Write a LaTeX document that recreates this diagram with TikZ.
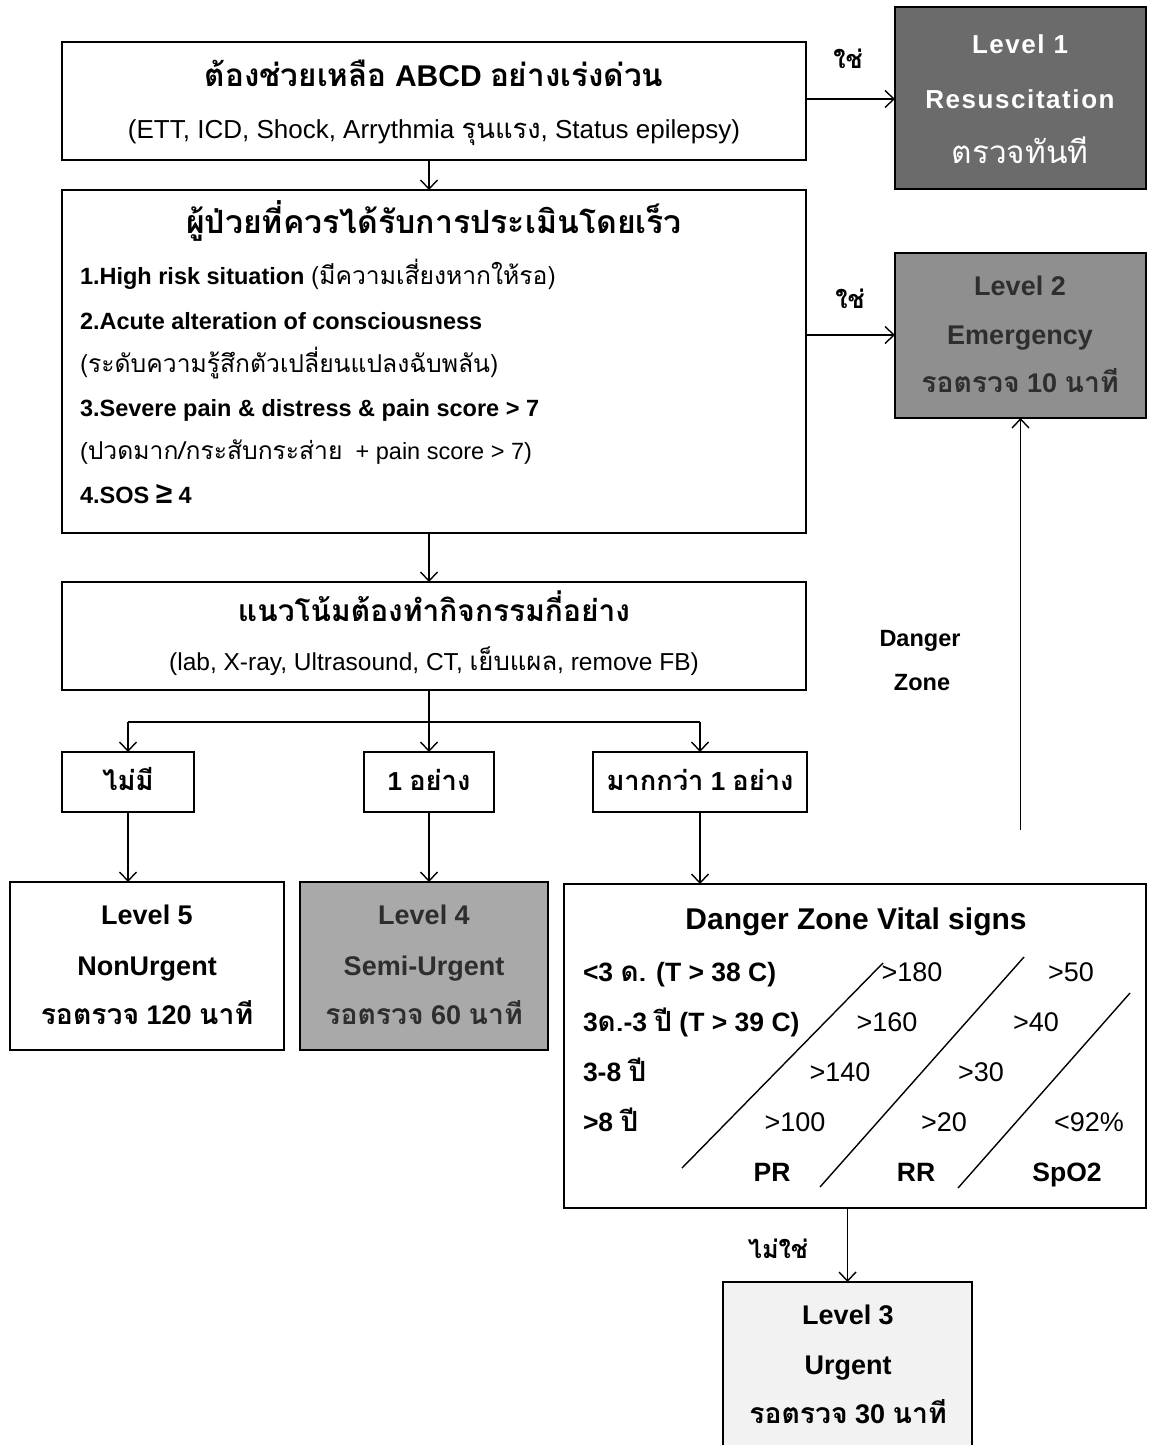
\documentclass[tikz,border=0pt]{standalone}
\usepackage{fontspec}
\setmainfont{Liberation Sans}
\newfontfamily\thfont[Script=Thai,Scale=1.05]{Loma}
\usetikzlibrary{arrows.meta}
\newcommand{\fsz}[1]{\fontsize{#1}{#1}\selectfont}
\newcommand{\tht}[1]{{\thfont #1}}
\definecolor{lone}{HTML}{6B6B6B}
\definecolor{ltwo}{HTML}{8F8F8F}
\definecolor{lfour}{HTML}{A9A9A9}
\definecolor{lthree}{HTML}{F2F2F2}
\definecolor{darktxt}{HTML}{2E2E2E}
\begin{document}
\begin{tikzpicture}[x=1pt,y=-1pt,
  every node/.style={inner sep=0pt,outer sep=0pt},
  box/.style={draw=black,line width=1.8pt},
  arr/.style={line width=1.4pt,-{Straight Barb[length=9pt,width=17pt,line width=1.4pt]}},
  ln/.style={line width=1.4pt},
  tx/.style={anchor=mid,yshift=-6pt},
  txl/.style={anchor=mid west,yshift=-6pt}]
\fill[white] (0,0) rectangle (1148,1445);
\useasboundingbox (0,0) rectangle (1148,1445);

% boxes
\node[box, minimum width=744pt, minimum height=118pt] (A) at (434,101) {};
\node[box, fill=lone, minimum width=251pt, minimum height=182pt] (L1) at (1020.5,98) {};
\node[box, minimum width=744pt, minimum height=343pt] (B) at (434,361.5) {};
\node[box, fill=ltwo, minimum width=251pt, minimum height=165pt] (L2) at (1020.5,335.5) {};
\node[box, minimum width=744pt, minimum height=108pt] (C) at (434,636) {};
\node[box, minimum width=132pt, minimum height=60pt] (n0) at (128,782) {};
\node[box, minimum width=130pt, minimum height=60pt] (n1) at (429,782) {};
\node[box, minimum width=214pt, minimum height=60pt] (n2) at (700,782) {};
\node[box, minimum width=274pt, minimum height=168pt] (L5) at (147,966) {};
\node[box, fill=lfour, minimum width=248pt, minimum height=168pt] (L4) at (424,966) {};
\node[box, minimum width=582pt, minimum height=324pt] (DZ) at (855,1046) {};
\node[box, fill=lthree, minimum width=249pt, minimum height=190pt] (L3) at (847.5,1377) {};

% texts A
\node[tx, font=\fsz{30}\bfseries] (a1) at (434,78) {\tht{ต้องช่วยเหลือ} ABCD \tht{อย่างเร่งด่วน}};
\node[tx, font=\fsz{26}] (a2) at (434,130) {(ETT, ICD, Shock, Arrythmia \tht{รุนแรง}, Status epilepsy)};
% Level 1
\node[tx, font=\fsz{26}\bfseries\addfontfeature{LetterSpace=6}, text=white] (l1a) at (1020,45) {Level 1};
\node[tx, font=\fsz{26}\bfseries\addfontfeature{LetterSpace=6}, text=white] (l1b) at (1020,100) {Resuscitation};
\node[tx, font=\fsz{30}, text=white] (l1c) at (1020,155) {\tht{ตรวจทันที}};
\node[tx, font=\fsz{24}\bfseries] (yes1) at (848,60) {\tht{ใช่}};
% texts B
\node[tx, font=\fsz{30.5}\bfseries] (b0) at (434,225) {\tht{ผู้ป่วยที่ควรได้รับการประเมินโดยเร็ว}};
\node[txl, font=\fsz{23.5}] (b1) at (80,276) {\textbf{1.High risk situation} \tht{(มีความเสี่ยงหากให้รอ)}};
\node[txl, font=\fsz{23.5}\bfseries] (b2) at (80,321) {2.Acute alteration of consciousness};
\node[txl, font=\fsz{23.5}] (b3) at (80,364) {\tht{(ระดับความรู้สึกตัวเปลี่ยนแปลงฉับพลัน)}};
\node[txl, font=\fsz{23.5}\bfseries] (b4) at (80,408) {3.Severe pain \& distress \& pain score > 7};
\node[txl, font=\fsz{23.5}] (b5) at (80,451) {(\tht{ปวดมาก/กระสับกระส่าย}\ \ + pain score > 7)};
\node[txl, font=\fsz{23.5}\bfseries] (b6) at (80,495) {4.SOS {\fsz{30}≥} 4};
% Level 2
\node[tx, font=\fsz{27}\bfseries, text=darktxt] (l2a) at (1020,287) {Level 2};
\node[tx, font=\fsz{27}\bfseries, text=darktxt] (l2b) at (1020,336) {Emergency};
\node[tx, font=\fsz{27}\bfseries, text=darktxt] (l2c) at (1020,384) {\tht{รอตรวจ} 10 \tht{นาที}};
\node[tx, font=\fsz{24}\bfseries] (yes2) at (850,300) {\tht{ใช่}};
% texts C
\node[tx, font=\fsz{28.5}\bfseries] (c1) at (434,613) {\tht{แนวโน้มต้องทำกิจกรรมกี่อย่าง}};
\node[tx, font=\fsz{24.5}] (c2) at (434,662) {(lab, X-ray, Ultrasound, CT, \tht{เย็บแผล}, remove FB)};
% small boxes
\node[tx, font=\fsz{26}\bfseries] at (n0) {\tht{ไม่มี}};
\node[tx, font=\fsz{26}\bfseries] at (n1) {1 \tht{อย่าง}};
\node[tx, font=\fsz{26}\bfseries] at (n2) {\tht{มากกว่า} 1 \tht{อย่าง}};
% Level 5
\node[tx, font=\fsz{27}\bfseries] (l5a) at (147,916) {Level 5};
\node[tx, font=\fsz{27}\bfseries] (l5b) at (147,967) {NonUrgent};
\node[tx, font=\fsz{27}\bfseries] (l5c) at (147,1016) {\tht{รอตรวจ} 120 \tht{นาที}};
% Level 4
\node[tx, font=\fsz{27}\bfseries, text=darktxt] (l4a) at (424,916) {Level 4};
\node[tx, font=\fsz{27}\bfseries, text=darktxt] (l4b) at (424,967) {Semi-Urgent};
\node[tx, font=\fsz{27}\bfseries, text=darktxt] (l4c) at (424,1016) {\tht{รอตรวจ} 60 \tht{นาที}};
% Danger zone
\node[tx, font=\fsz{30}\bfseries] (dzt) at (856,921) {Danger Zone Vital signs};
\node[txl, font=\fsz{26.5}\bfseries] (r1) at (583,973) {<3 \tht{ด.} (T > 38 C)};
\node[txl, font=\fsz{26.5}\bfseries] (r2) at (583,1023) {3\tht{ด.}-3 \tht{ปี} (T > 39 C)};
\node[txl, font=\fsz{26.5}\bfseries] (r3) at (583,1073) {3-8 \tht{ปี}};
\node[txl, font=\fsz{26.5}\bfseries] (r4) at (583,1123) {>8 \tht{ปี}};
\begin{scope}[every node/.style={anchor=mid, yshift=-6pt, inner sep=0pt, font=\fsz{27}}]
\node (p1) at (912,973) {>180};
\node (p2) at (887,1023) {>160};
\node (p3) at (840,1073) {>140};
\node (p4) at (795,1123) {>100};
\node (q1) at (1071,973) {>50};
\node (q2) at (1036,1023) {>40};
\node (q3) at (981,1073) {>30};
\node (q4) at (944,1123) {>20};
\node (s4) at (1089,1123) {<92\%};
\end{scope}
\node[tx, font=\fsz{26.5}\bfseries] (pr) at (772,1173) {PR};
\node[tx, font=\fsz{26.5}\bfseries] (rr) at (916,1173) {RR};
\node[tx, font=\fsz{26.5}\bfseries] (sp) at (1067,1173) {SpO2};
\coordinate (d1a) at (682,1168); \coordinate (d1b) at (883,963);
\coordinate (d2a) at (820,1187); \coordinate (d2b) at (1024,957);
\coordinate (d3a) at (958,1188); \coordinate (d3b) at (1130,993);
\draw[ln] (d1a) -- (d1b);
\draw[ln] (d2a) -- (d2b);
\draw[ln] (d3a) -- (d3b);
% Level 3
\node[tx, font=\fsz{27}\bfseries] (l3a) at (848,1316) {Level 3};
\node[tx, font=\fsz{27}\bfseries] (l3b) at (848,1366) {Urgent};
\node[tx, font=\fsz{27}\bfseries] (l3c) at (848,1415) {\tht{รอตรวจ} 30 \tht{นาที}};
\node[tx, font=\fsz{24}\bfseries] (no) at (778,1250) {\tht{ไม่ใช่}};
% danger zone label
\node[tx, font=\fsz{23.5}\bfseries] (dzl1) at (920,638) {Danger};
\node[tx, font=\fsz{23.5}\bfseries] (dzl2) at (922,682) {Zone};

% connectors
\draw[arr] (A.east |- 0,99) -- (L1.west |- 0,99);
\draw[arr] (B.east |- 0,335) -- (L2.west |- 0,335);
\draw[arr] (A.south -| n1) -- (B.north -| n1);
\draw[arr] (B.south -| n1) -- (C.north -| n1);
\coordinate (br) at (n1 |- 0,722);
\draw[ln] (C.south -| n1) -- (br);
\draw[ln] (n0 |- br) -- (n2 |- br);
\draw[arr] (n0 |- br) -- (n0.north);
\draw[arr] (br) -- (n1.north);
\draw[arr] (n2 |- br) -- (n2.north);
\draw[arr] (n0.south) -- (n0.south |- L5.north);
\draw[arr] (n1.south) -- (n1.south |- L4.north);
\draw[arr] (n2.south) -- (n2.south |- DZ.north);
\coordinate (dzs) at (L2.south |- 0,830);
\draw[arr] (dzs) -- (L2.south);
\draw[arr] (DZ.south -| L3.north) -- (L3.north);
\end{tikzpicture}
\end{document}
